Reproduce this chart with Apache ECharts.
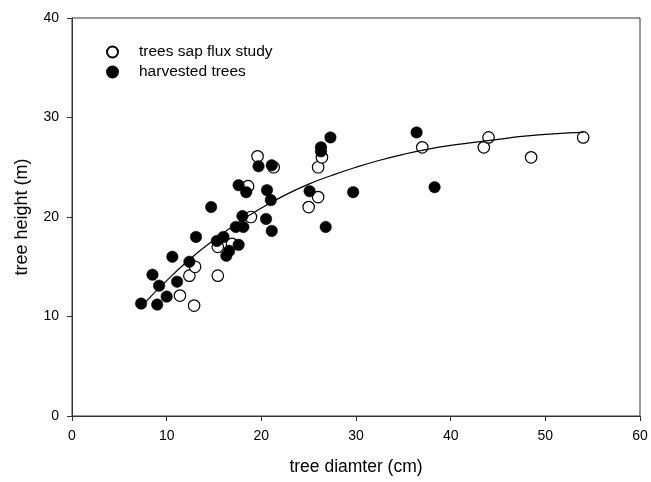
<!DOCTYPE html>
<html>
<head>
<meta charset="utf-8">
<script src="https://cdn.jsdelivr.net/npm/echarts@6/dist/echarts.min.js"></script>
<style>
html,body{margin:0;padding:0;background:#fff;}
#c{width:651px;height:482px;}
</style>
</head>
<body>
<div id="c"></div>
<script>
// Trees from the sap flux study (open circles): [diameter cm, height m]
var sapFluxDiameter = [11.4, 12.9, 12.4, 13.0, 15.4, 15.4, 16.9, 18.9, 18.6, 19.6, 21.3, 25.0, 26.0, 26.0, 26.4, 37.0, 43.5, 44.0, 48.5, 54.0];
var sapFluxHeight   = [12.1, 11.1, 14.1, 15.0, 14.1, 17.0, 17.3, 20.0, 23.1, 26.1, 25.0, 21.0, 22.0, 25.0, 26.0, 27.0, 27.0, 28.0, 26.0, 28.0];

// Harvested trees (filled circles)
var harvestedDiameter = [7.3, 9.0, 10.0, 9.2, 8.5, 11.1, 10.6, 12.4, 13.1, 14.7, 15.3, 16.0, 16.3, 16.6, 17.6, 17.3, 18.1, 18.0, 17.6, 18.4, 19.7, 21.1, 20.6, 21.0, 20.5, 21.1, 25.1, 26.3, 26.3, 27.3, 29.7, 26.8, 36.4, 38.3];
var harvestedHeight   = [11.3, 11.2, 12.0, 13.1, 14.2, 13.5, 16.0, 15.5, 18.0, 21.0, 17.6, 18.0, 16.1, 16.6, 17.2, 19.0, 19.0, 20.1, 23.2, 22.5, 25.1, 25.2, 22.7, 21.7, 19.8, 18.6, 22.6, 27.0, 26.6, 28.0, 22.5, 19.0, 28.5, 23.0];

// Fitted curve
var fitDiameter = [7.5, 10, 12.5, 15, 17.5, 20, 22.5, 25, 27.5, 30, 32.5, 35, 37.5, 40, 42.5, 45, 47.5, 50, 52.5, 54];
var fitHeight   = [11.2, 13.6, 15.8, 17.7, 19.4, 20.9, 22.2, 23.3, 24.2, 25.0, 25.7, 26.3, 26.8, 27.2, 27.5, 27.8, 28.1, 28.3, 28.45, 28.5];

var xTicks = [0, 10, 20, 30, 40, 50, 60];
var yTicks = [0, 10, 20, 30, 40];

function pairs(xs, ys) { return xs.map(function (x, i) { return [x, ys[i]]; }); }

var font = '"Liberation Sans", Arial, sans-serif';
var chart = echarts.init(document.getElementById('c'), null, {renderer: 'canvas'});
chart.setOption({
  animation: false,
  backgroundColor: '#fff',
  grid: {left: 72, right: 11, top: 18, bottom: 66, show: true, borderColor: '#333', borderWidth: 1},
  legend: {
    orient: 'vertical', left: 101, top: 39, itemGap: 4, itemWidth: 11, itemHeight: 11,
    data: ['trees sap flux study', 'harvested trees'],
    textStyle: {fontFamily: font, fontSize: 15.5, color: '#000', padding: [0, 0, 0, 16]}
  },
  xAxis: {
    type: 'value', min: xTicks[0], max: xTicks[xTicks.length - 1], interval: 10,
    name: 'tree diamter (cm)', nameLocation: 'middle', nameGap: 42,
    nameTextStyle: {fontFamily: font, fontSize: 17.5, color: '#000'},
    axisLine: {lineStyle: {color: '#333', width: 1}},
    axisTick: {show: true, inside: false, length: 5, lineStyle: {color: '#333'}},
    axisLabel: {fontFamily: font, fontSize: 14, color: '#000', margin: 13},
    splitLine: {show: false}
  },
  yAxis: {
    type: 'value', min: yTicks[0], max: yTicks[yTicks.length - 1], interval: 10,
    name: 'tree height (m)', nameLocation: 'middle', nameGap: 41,
    nameTextStyle: {fontFamily: font, fontSize: 18, color: '#000'},
    axisLine: {show: true, lineStyle: {color: '#333', width: 1}},
    axisTick: {show: true, inside: false, length: 5, lineStyle: {color: '#333'}},
    axisLabel: {fontFamily: font, fontSize: 14, color: '#000', margin: 13},
    splitLine: {show: false}
  },
  series: [
    {
      name: 'trees sap flux study', type: 'scatter', symbol: 'circle', symbolSize: 11.5,
      itemStyle: {color: '#fff', borderColor: '#000', borderWidth: 1.2, opacity: 1},
      data: pairs(sapFluxDiameter, sapFluxHeight), z: 2
    },
    {
      name: 'harvested trees', type: 'scatter', symbol: 'circle', symbolSize: 11.5,
      itemStyle: {color: '#000', borderColor: '#000', borderWidth: 0.5, opacity: 1},
      data: pairs(harvestedDiameter, harvestedHeight), z: 3
    },
    {
      name: 'fit', type: 'line', smooth: true, showSymbol: false, symbol: 'none',
      lineStyle: {color: '#000', width: 1.2},
      data: pairs(fitDiameter, fitHeight), z: 4, silent: true
    }
  ]
});
</script>
</body>
</html>
